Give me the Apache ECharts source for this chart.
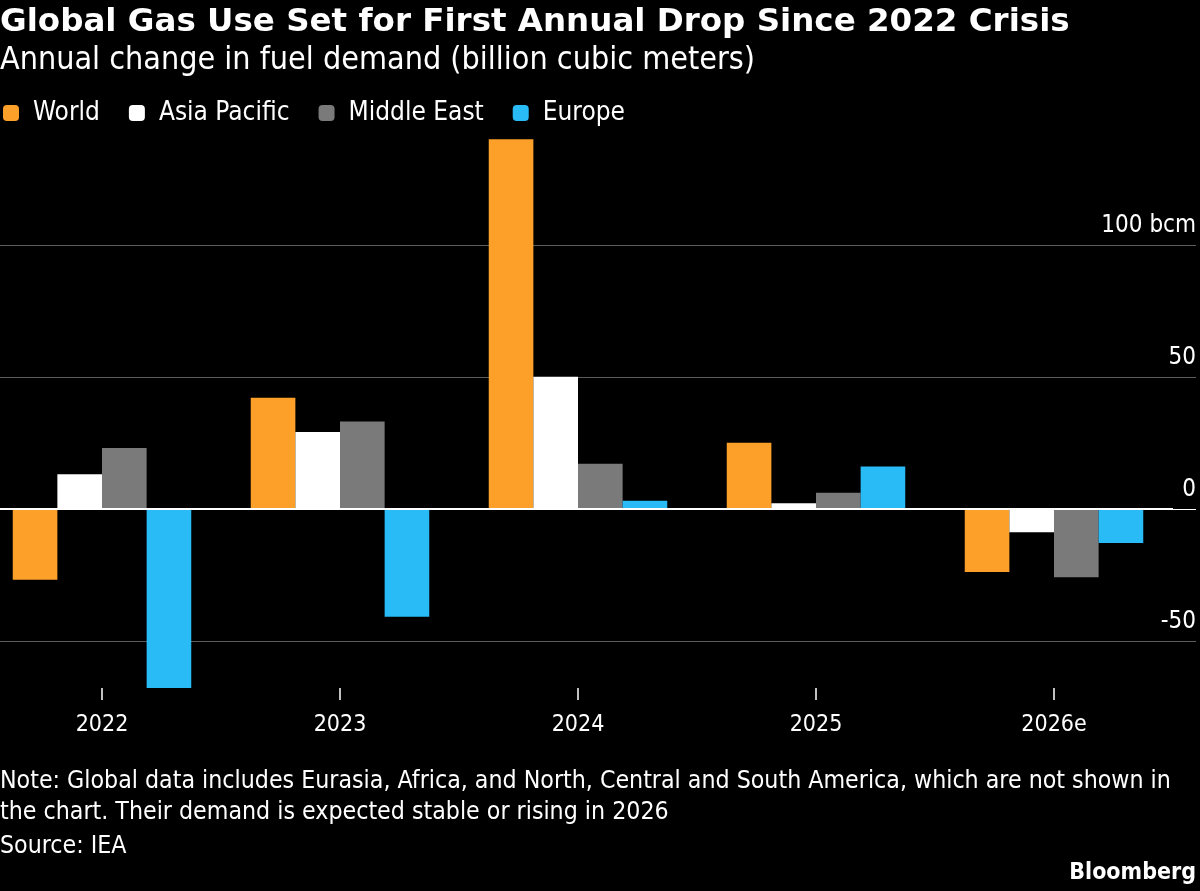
<!DOCTYPE html>
<html>
<head>
<meta charset="utf-8">
<script src="https://cdn.jsdelivr.net/npm/echarts@6/dist/echarts.min.js"></script>
<style>
  html, body { margin: 0; padding: 0; background: #000; }
  #chart { width: 1200px; height: 891px; }
</style>
</head>
<body>
<div id="chart"></div>
<script>
var years = ['2022', '2023', '2024', '2025', '2026e'];
var world = [-27, 42, 140, 25, -24];
var asiaPacific = [13, 29, 50, 2, -9];
var middleEast = [23, 33, 17, 6, -26];
var europe = [-68, -41, 3, 16, -13];
var yTicks = [-50, 0, 50, 100];

var font = '"DejaVu Sans Condensed", "DejaVu Sans", sans-serif';
var colors = ['#fda02a', '#ffffff', '#7a7a7a', '#29bbf6'];

var myChart = echarts.init(document.getElementById('chart'));

function bar(name, data, idx) {
    return {
        name: name,
        type: 'bar',
        xAxisIndex: 0,
        yAxisIndex: 0,
        data: data,
        barGap: 0,
        barCategoryGap: '25%',
        itemStyle: { color: colors[idx] },
        silent: true
    };
}

var series = [
    bar('World', world, 0),
    bar('Asia Pacific', asiaPacific, 1),
    bar('Middle East', middleEast, 2),
    bar('Europe', europe, 3)
];
// zero line
series[3].markLine = {
    silent: true,
    symbol: 'none',
    label: { show: false },
    lineStyle: { color: '#fff', width: 2, type: 'solid' },
    data: [{ yAxis: 0 }]
};

option = {
    backgroundColor: '#000',
    animation: false,
    textStyle: { fontFamily: font },
    title: [
        {
            text: 'Global Gas Use Set for First Annual Drop Since 2022 Crisis',
            left: 0, top: 6, padding: 0,
            textStyle: { color: '#fff', fontSize: 32.5, fontWeight: 'bold', fontFamily: '"DejaVu Sans", sans-serif' }
        },
        {
            text: 'Annual change in fuel demand (billion cubic meters)',
            left: 0, top: 45, padding: 0,
            textStyle: { color: '#fff', fontSize: 32, fontWeight: 'normal', fontFamily: font }
        },
        {
            text: 'Note: Global data includes Eurasia, Africa, and North, Central and South America, which are not shown in\nthe chart. Their demand is expected stable or rising in 2026',
            left: 0, top: 766, padding: 0,
            textStyle: { color: '#fff', fontSize: 24.7, fontWeight: 'normal', lineHeight: 31, fontFamily: font }
        },
        {
            text: 'Source: IEA',
            left: 0, top: 834, padding: 0,
            textStyle: { color: '#fff', fontSize: 24.7, fontWeight: 'normal', fontFamily: font }
        },
        {
            text: 'Bloomberg',
            right: 4, top: 862, padding: 0,
            textStyle: { color: '#fff', fontSize: 23, fontWeight: 'bold', fontFamily: font }
        }
    ],
    legend: {
        left: 3,
        top: 100,
        padding: 0,
        icon: 'roundRect',
        itemWidth: 16,
        itemHeight: 16,
        itemGap: 29,
        selectedMode: false,
        textStyle: { color: '#fff', fontSize: 26, padding: [0, 0, 0, 9], fontFamily: font },
        data: ['World', 'Asia Pacific', 'Middle East', 'Europe']
    },
    grid: [
        { left: -17, width: 1190, top: 134, height: 554, outerBoundsMode: 'none', containLabel: false },
        { left: 0, right: 4, top: 245, height: 396, outerBoundsMode: 'none' }
    ],
    xAxis: [
        {
            type: 'category',
            gridIndex: 0,
            data: years,
            axisLine: { show: false, onZero: false },
            axisTick: { show: true, alignWithLabel: true, length: 12, lineStyle: { color: '#fff', width: 1.5 } },
            axisLabel: { color: '#fff', fontSize: 23, margin: 26, fontFamily: font },
            splitLine: { show: false }
        },
        {
            type: 'value',
            gridIndex: 1,
            min: 0, max: 1,
            show: false
        }
    ],
    yAxis: [
        {
            type: 'value',
            gridIndex: 0,
            min: -68, max: 142,
            show: false,
            splitLine: { show: false }
        },
        {
            type: 'value',
            gridIndex: 1,
            position: 'right',
            min: yTicks[0],
            max: yTicks[yTicks.length - 1],
            interval: 50,
            axisLine: { show: false },
            axisTick: { show: false },
            splitLine: {
                show: true,
                lineStyle: { color: ['#5c5c5c', '#ffffff', '#5c5c5c', '#5c5c5c'], width: 1 }
            },
            axisLabel: {
                inside: true,
                margin: 0,
                color: '#fff',
                fontSize: 24,
                verticalAlign: 'bottom',
                padding: [0, 0, 7, 0],
                fontFamily: font,
                formatter: function (v) {
                    return v === 100 ? '100 bcm' : String(v);
                }
            }
        }
    ],
    series: series
};

myChart.setOption(option);
</script>
</body>
</html>
